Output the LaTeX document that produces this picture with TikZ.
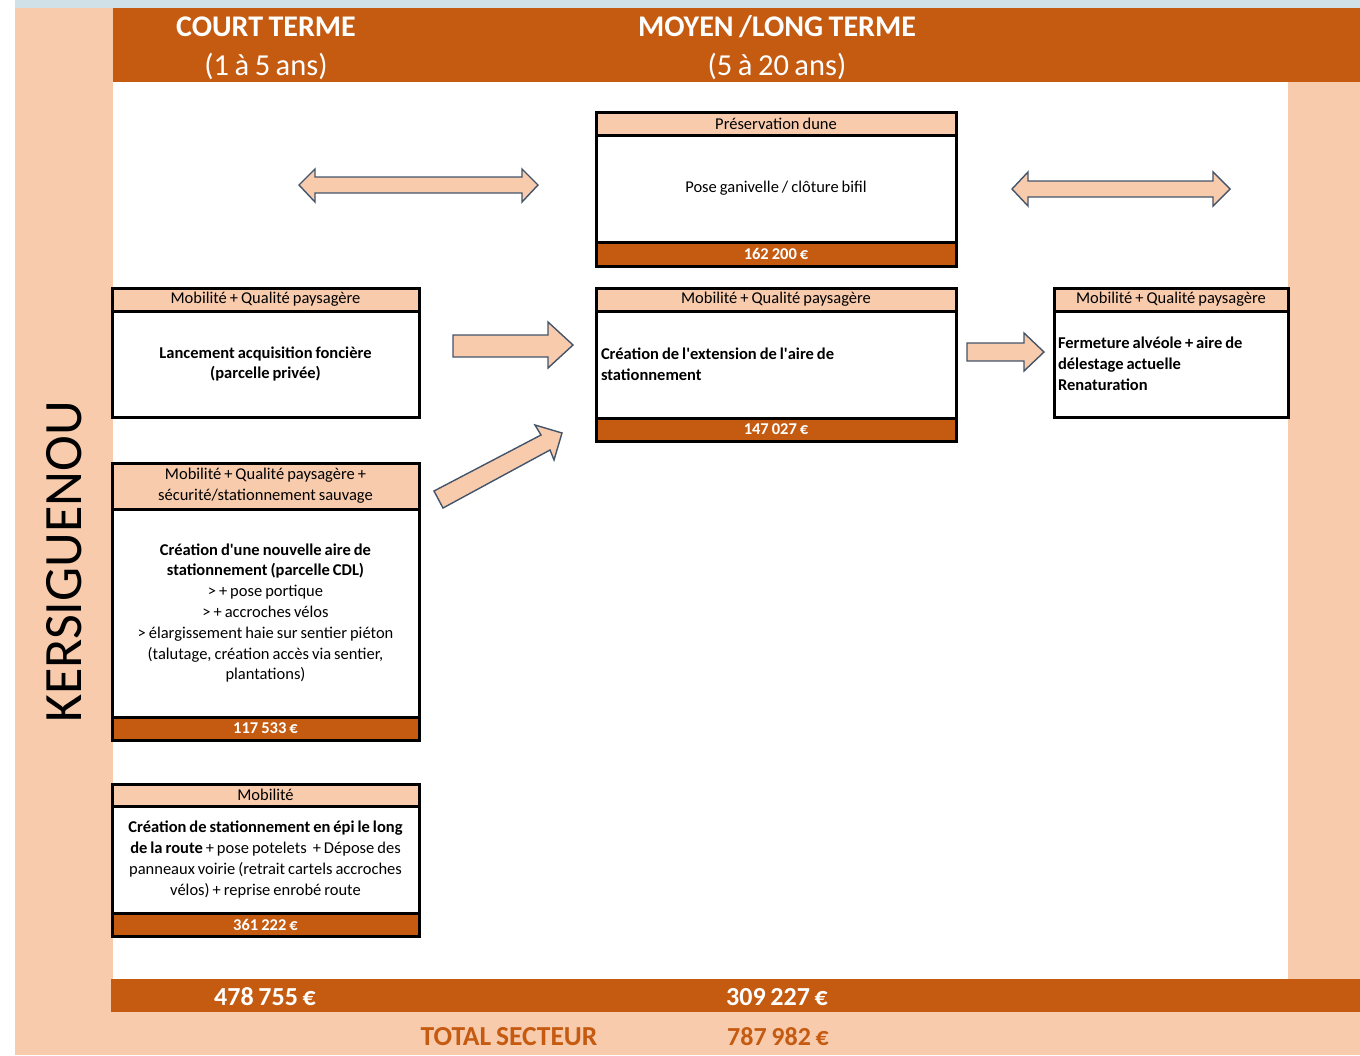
\documentclass[tikz,border=0pt]{standalone}
\usepackage{fontspec}
\setmainfont[WordSpace=0.8]{Carlito}
\definecolor{peach}{HTML}{F8CBAD}
\definecolor{orng}{HTML}{C55A11}
\definecolor{lblue}{HTML}{D0E1E8}
\definecolor{arrbd}{HTML}{44546A}
\newcommand{\fsbox}{\fontsize{16.5}{20.8}\selectfont}
\newcommand{\apos}{\textquotesingle}
\begin{document}
\begin{tikzpicture}[x=1pt,y=-1pt,
  cell/.style={draw=black, line width=3pt, inner sep=0pt, outer sep=0pt, anchor=north west, font=\fsbox},
  hdr/.style={cell, fill=peach},
  bdy/.style={cell, fill=white},
  ftr/.style={cell, fill=orng, text=white, font=\fsbox\bfseries},
  blockarrow/.style={fill=peach, draw=arrbd, line width=1.4pt, line join=miter},
  title/.style={text=white, font=\fontsize{30.5}{35}\selectfont, inner sep=0pt},
  total/.style={font=\fontsize{26}{30}\selectfont\bfseries, inner sep=0pt}
]
\useasboundingbox (0,0) rectangle (1360,1055);
% background
\fill[white] (0,0) rectangle (1360,1055);
\fill[lblue] (15,0) rectangle (1360,8);
\fill[peach] (15,8) rectangle (1360,1055);
\fill[orng] (113,8) rectangle (1360,82);
\fill[white] (113,82) rectangle (1288,979);
\fill[orng] (111,979) rectangle (1360,1012);

% headers
\node[title, font=\fontsize{30}{35}\selectfont\bfseries] (ct) at (266,27) {COURT TERME};
\node[title] (cty) at (266,66) {(1 à 5 ans)};
\node[title, font=\fontsize{30}{35}\selectfont\bfseries] (mt) at (777,27) {MOYEN /LONG TERME};
\node[title] (mty) at (777,66) {(5 à 20 ans)};

\node[rotate=90, font=\fontsize{54}{60}\selectfont, inner sep=0pt] (sect) at (64,562) {KERSIGUENOU};

% Box A
\node[hdr, minimum width=360pt, minimum height=23pt] (Ah) at (596,112) {Préservation dune};
\node[bdy, minimum width=360pt, minimum height=107pt, text width=350pt, align=flush center] (Ab) at (596,135) {Pose ganivelle / clôture bifil};
\node[ftr, minimum width=360pt, minimum height=24pt] (Af) at (596,242) {162 200 €};

% Box B
\node[hdr, minimum width=307pt, minimum height=23pt] (Bh) at (112,288) {Mobilité + Qualité paysagère};
\node[bdy, minimum width=307pt, minimum height=106pt, text width=297pt, align=flush center] (Bb) at (112,311) {\bfseries Lancement acquisition foncière\\(parcelle privée)};

% Box C
\node[hdr, minimum width=360pt, minimum height=23pt] (Ch) at (596,288) {Mobilité + Qualité paysagère};
\node[bdy, minimum width=360pt, minimum height=107pt, text width=350pt, align=flush left] (Cb) at (596,311) {\bfseries Création de l\apos extension de l\apos aire de\\stationnement};
\node[ftr, minimum width=360pt, minimum height=23pt] (Cf) at (596,418) {147 027 €};

% Box D
\node[hdr, minimum width=234pt, minimum height=23pt] (Dh) at (1054,288) {Mobilité + Qualité paysagère};
\node[bdy, minimum width=234pt, minimum height=106pt, text width=226pt, align=flush left] (Db) at (1054,311) {\bfseries Fermeture alvéole + aire de\\délestage actuelle\\Renaturation};

% Box E
\node[hdr, minimum width=307pt, minimum height=46pt, text width=297pt, align=flush center] (Eh) at (112,463) {Mobilité + Qualité paysagère +\\sécurité/stationnement sauvage};
\node[bdy, minimum width=307pt, minimum height=208pt, text width=297pt, align=flush center] (Eb) at (112,509) {\textbf{Création d\apos une nouvelle aire de}\\\textbf{stationnement (parcelle CDL)}\\> + pose portique\\> + accroches vélos\\> élargissement haie sur sentier piéton\\(talutage, création accès via sentier,\\plantations)};
\node[ftr, minimum width=307pt, minimum height=23pt] (Ef) at (112,717) {117 533 €};

% Box F
\node[hdr, minimum width=307pt, minimum height=22pt] (Fh) at (112,784) {Mobilité};
\node[bdy, minimum width=307pt, minimum height=107pt, text width=297pt, align=flush center] (Fb) at (112,806) {\textbf{Création de stationnement en épi le long}\\\textbf{de la route} + pose potelets \ + Dépose des\\panneaux voirie (retrait cartels accroches\\vélos) + reprise enrobé route};
\node[ftr, minimum width=307pt, minimum height=23pt] (Ff) at (112,913) {361 222 €};

% block arrows
\draw[blockarrow] (299,185) -- (315,169) -- (315,177) -- (522,177) -- (522,169) -- (538,185) -- (522,202) -- (522,193) -- (315,193) -- (315,202) -- cycle;
\draw[blockarrow] (1012,189) -- (1028,172) -- (1028,181) -- (1213,181) -- (1213,172) -- (1230,189) -- (1213,206) -- (1213,197) -- (1028,197) -- (1028,206) -- cycle;
\draw[blockarrow] (453,335) -- (548,335) -- (548,322) -- (573,345) -- (548,368) -- (548,357) -- (453,357) -- cycle;
\draw[blockarrow] (967,343) -- (1024,343) -- (1024,333) -- (1044,352) -- (1024,371) -- (1024,361) -- (967,361) -- cycle;
\draw[blockarrow] (434,491) -- (541,435) -- (535,425) -- (562,433) -- (554,460) -- (550,450) -- (443,508) -- cycle;

% totals
\node[total, text=white] (t1) at (265,997) {478 755 €};
\node[total, text=white] (t2) at (777,997) {309 227 €};
\node[total, text=orng, font=\fontsize{27.5}{30}\selectfont\bfseries] (tl) at (509,1037) {TOTAL SECTEUR};
\node[total, text=orng] (tt) at (778,1037) {787 982 €};
\end{tikzpicture}
\end{document}
